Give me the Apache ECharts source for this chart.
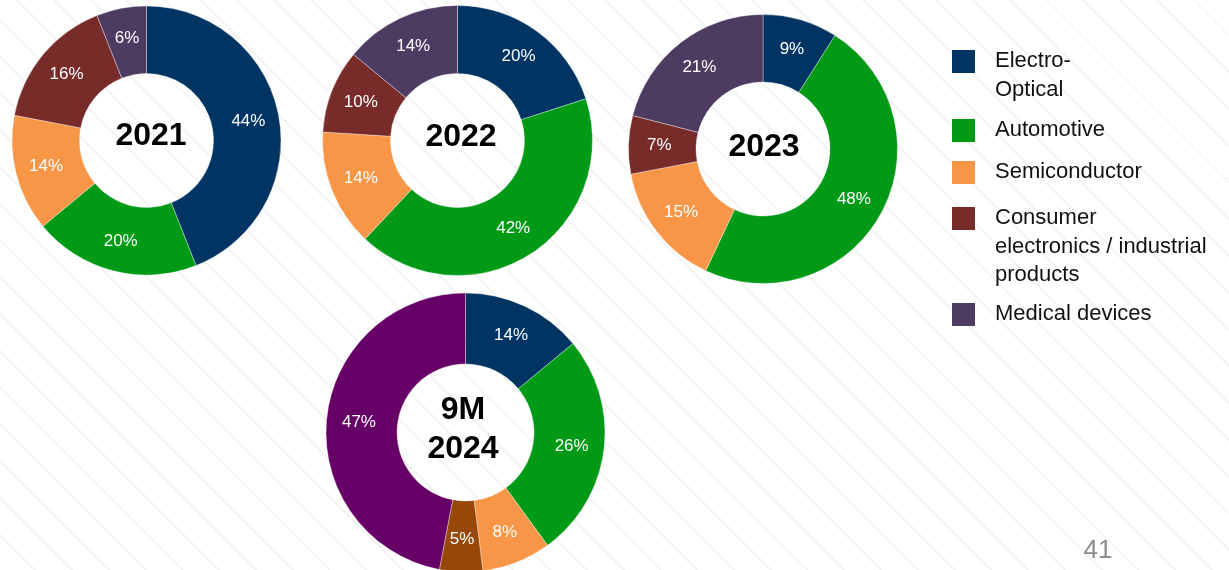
<!DOCTYPE html>
<html>
<head>
<meta charset="utf-8">
<script src="https://cdn.jsdelivr.net/npm/echarts@6/dist/echarts.min.js"></script>
<style>
  html, body { margin: 0; padding: 0; background: #ffffff; }
  #chart {
    width: 1229px; height: 570px;
    background-image: repeating-linear-gradient(45deg,
      rgba(0,0,0,0) 0px, rgba(0,0,0,0) 24px,
      rgba(225,225,225,0.38) 24px, rgba(225,225,225,0.38) 26px);
  }
</style>
</head>
<body>
<div id="chart"></div>
<script>
// Revenue split by end market, per period
const categories = ['Electro-Optical', 'Automotive', 'Semiconductor',
  'Consumer electronics / industrial products', 'Medical devices'];
const legendLabels = ['Electro-\nOptical', 'Automotive', 'Semiconductor',
  'Consumer\nelectronics / industrial\nproducts', 'Medical devices'];

const periods = ['2021', '2022', '2023', '9M\n2024'];
const share2021 = [44, 20, 14, 16, 6];
const share2022 = [20, 42, 14, 10, 14];
const share2023 = [9, 48, 15, 7, 21];
const share9M2024 = [14, 26, 8, 5, 47];
const pageNumber = '41';

const colors = ['#003462', '#009A17', '#F79646', '#772C2A', '#4E3B62'];
const colors2024 = ['#003462', '#009A17', '#F79646', '#974706', '#660066'];

const donuts = [
  { values: share2021, palette: colors, center: [146.5, 140.5], r: [67, 134.5], title: [151, 136] },
  { values: share2022, palette: colors, center: [457.5, 140.5], r: [67, 135], title: [461, 137] },
  { values: share2023, palette: colors, center: [763, 149], r: [67, 134.5], title: [764, 147] },
  { values: share9M2024, palette: colors2024, center: [465.5, 432.5], r: [68.5, 139.5], title: [463, 430] }
];

const FONT = 'Liberation Sans, Arial, sans-serif';

const series = donuts.map((d, k) => ({
  type: 'pie',
  name: periods[k],
  center: d.center,
  radius: d.r,
  startAngle: 90,
  clockwise: true,
  avoidLabelOverlap: false,
  silent: true,
  animation: false,
  itemStyle: { borderColor: 'rgba(255,255,255,0.6)', borderWidth: 0.6 },
  label: {
    show: true,
    position: 'inside',
    formatter: '{c}%',
    color: '#ffffff',
    fontFamily: FONT,
    fontSize: 17
  },
  labelLine: { show: false },
  data: categories.map((name, i) => ({
    name: name,
    value: d.values[i],
    itemStyle: { color: d.palette[i] }
  }))
}));

// Period captions inside each donut hole
const graphics = donuts.map((d, k) => ({
  type: 'text',
  x: d.title[0],
  y: d.title[1],
  style: {
    text: periods[k],
    fill: '#000000',
    font: 'bold 32px ' + FONT,
    align: 'center',
    verticalAlign: 'middle',
    lineHeight: 39
  }
}));

// Legend: square swatch with label to its right
const legendTops = [50, 119, 161, 207, 303];
legendLabels.forEach((label, i) => {
  graphics.push({
    type: 'rect',
    shape: { x: 952, y: legendTops[i], width: 23, height: 23 },
    style: { fill: colors[i] }
  });
  graphics.push({
    type: 'text',
    x: 995,
    y: legendTops[i] - 3,
    style: {
      text: label,
      fill: '#111111',
      font: '22px ' + FONT,
      align: 'left',
      verticalAlign: 'top',
      lineHeight: 28.5
    }
  });
});

// Page number
graphics.push({
  type: 'text',
  x: 1098,
  y: 551,
  style: {
    text: pageNumber,
    fill: '#8c8c8c',
    font: '26px ' + FONT,
    align: 'center',
    verticalAlign: 'middle'
  }
});

const chart = echarts.init(document.getElementById('chart'), null, { renderer: 'canvas' });
chart.setOption({
  backgroundColor: 'transparent',
  animation: false,
  series: series,
  graphic: graphics
});
</script>
</body>
</html>
